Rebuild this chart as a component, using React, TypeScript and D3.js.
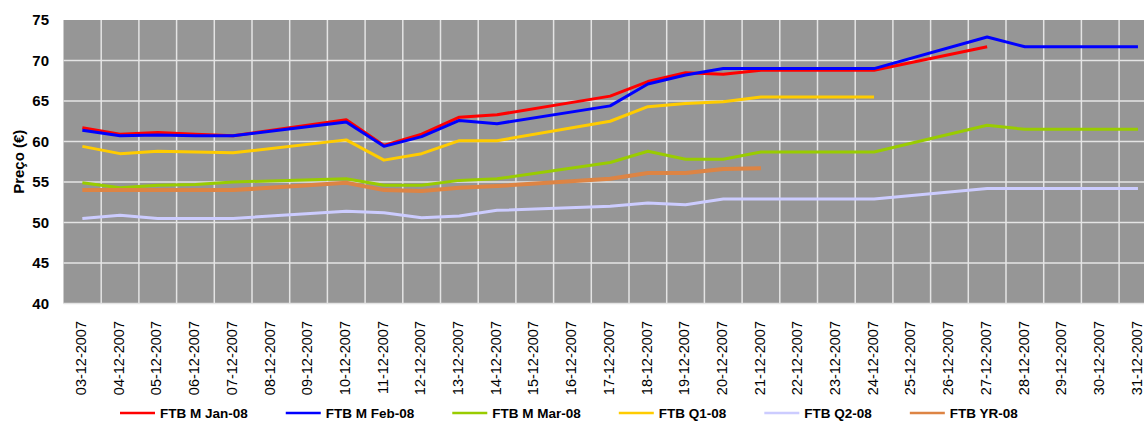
import * as d3 from "d3";
import { useEffect, useRef } from "react";

// trading days only; weekends / holidays are null and the line bridges them
const dates = [
  "03-12-2007", "04-12-2007", "05-12-2007", "06-12-2007", "07-12-2007",
  "08-12-2007", "09-12-2007", "10-12-2007", "11-12-2007", "12-12-2007",
  "13-12-2007", "14-12-2007", "15-12-2007", "16-12-2007", "17-12-2007",
  "18-12-2007", "19-12-2007", "20-12-2007", "21-12-2007", "22-12-2007",
  "23-12-2007", "24-12-2007", "25-12-2007", "26-12-2007", "27-12-2007",
  "28-12-2007", "29-12-2007", "30-12-2007", "31-12-2007",
];

const _ = null;

const janValues = [61.7, 60.9, 61.1, 60.9, 60.7, _, _, 62.7, 59.5, 60.9, 63.0, 63.3, _, _, 65.6, 67.4, 68.5, 68.3, 68.8, _, _, 68.8, _, _, 71.7, _, _, _, _];
const febValues = [61.4, 60.7, 60.8, 60.7, 60.7, _, _, 62.4, 59.4, 60.6, 62.6, 62.2, _, _, 64.4, 67.1, 68.2, 69.0, 69.0, _, _, 69.0, _, _, 72.9, 71.7, _, _, 71.7];
const marValues = [54.9, 54.3, 54.6, 54.7, 55.0, _, _, 55.4, 54.6, 54.6, 55.2, 55.4, _, _, 57.4, 58.8, 57.8, 57.8, 58.7, _, _, 58.7, _, _, 62.0, 61.5, _, _, 61.5];
const q1Values = [59.4, 58.5, 58.8, 58.7, 58.6, _, _, 60.2, 57.7, 58.5, 60.1, 60.1, _, _, 62.5, 64.3, 64.7, 64.9, 65.5, _, _, 65.5, _, _, _, _, _, _, _];
const q2Values = [50.5, 50.9, 50.5, 50.5, 50.5, _, _, 51.4, 51.2, 50.6, 50.8, 51.5, _, _, 52.0, 52.4, 52.2, 52.9, 52.9, _, _, 52.9, _, _, 54.2, 54.2, _, _, 54.2];
const yrValues = [54.0, 54.0, 54.0, 54.0, 54.0, _, _, 54.9, 54.0, 53.9, 54.3, 54.5, _, _, 55.4, 56.1, 56.1, 56.6, 56.7, _, _, _, _, _, _, _, _, _, _];

const seriesNames = ["FTB M Jan-08", "FTB M Feb-08", "FTB M Mar-08", "FTB Q1-08", "FTB Q2-08", "FTB YR-08"];
const seriesValues = [janValues, febValues, marValues, q1Values, q2Values, yrValues];
const seriesColors = ["#ff0000", "#0000ff", "#99cc00", "#ffcc00", "#ccccff", "#dd8444"];
const seriesWidths = [3, 3, 3, 3, 3, 4];

const yTicks = [40, 45, 50, 55, 60, 65, 70, 75];

export default function App() {
  const ref = useRef<SVGSVGElement>(null);

  useEffect(() => {
    if (!ref.current) return;
    const svg = d3.select(ref.current);
    svg.selectAll("*").remove();

    const width = 1144,
      margin = { top: 20, left: 63.5, bottom: 303.5 };
    const font = "'Liberation Sans', Arial, sans-serif";

    const x = d3
      .scaleBand()
      .domain(dates)
      .range([margin.left, margin.left + dates.length * 37.7])
      .padding(0);

    const y = d3.scaleLinear().domain([40, 75]).range([margin.bottom, margin.top]);

    const plotRight = width + 20;

    // plot background
    svg.append("rect")
      .attr("x", margin.left)
      .attr("y", margin.top)
      .attr("width", plotRight - margin.left)
      .attr("height", margin.bottom - margin.top)
      .attr("fill", "#969696");

    // grid
    const grid = svg.append("g").attr("stroke", "#e4e4e4").attr("stroke-width", 1.5);
    grid.selectAll("line.h")
      .data(yTicks.filter((t) => t !== 75))
      .enter()
      .append("line")
      .attr("class", "h")
      .attr("x1", margin.left)
      .attr("x2", plotRight)
      .attr("y1", (d) => y(d))
      .attr("y2", (d) => y(d));
    grid.selectAll("line.v")
      .data(dates.slice(1))
      .enter()
      .append("line")
      .attr("class", "v")
      .attr("x1", (d) => x(d)!)
      .attr("x2", (d) => x(d)!)
      .attr("y1", margin.top)
      .attr("y2", margin.bottom);

    // series
    const line = d3
      .line<{ date: string; v: number }>()
      .x((d) => x(d.date)! + x.bandwidth() / 2)
      .y((d) => y(d.v));

    seriesValues.forEach((vals, i) => {
      const pts = vals
        .map((v, j) => ({ date: dates[j], v: v as number }))
        .filter((p) => p.v != null);
      svg.append("path")
        .datum(pts)
        .attr("fill", "none")
        .attr("stroke", seriesColors[i])
        .attr("stroke-width", seriesWidths[i])
        .attr("stroke-linejoin", "round")
        .attr("d", line);
    });

    // y axis labels
    svg.append("g")
      .selectAll("text")
      .data(yTicks)
      .enter()
      .append("text")
      .attr("x", 49)
      .attr("y", (d) => y(d))
      .attr("dy", "0.36em")
      .attr("text-anchor", "end")
      .attr("font-family", font)
      .attr("font-weight", "bold")
      .attr("font-size", "15px")
      .attr("fill", "#000")
      .text((d) => d);

    svg.append("text")
      .attr("transform", `translate(24, ${(margin.top + margin.bottom) / 2}) rotate(-90)`)
      .attr("text-anchor", "middle")
      .attr("font-family", font)
      .attr("font-weight", "bold")
      .attr("font-size", "15px")
      .attr("fill", "#000")
      .text("Preço (€)");

    // x axis labels
    svg.append("g")
      .selectAll("text")
      .data(dates)
      .enter()
      .append("text")
      .attr("transform", (d) => `translate(${x(d)! + x.bandwidth() / 2 - 1.5}, 321) rotate(-90)`)
      .attr("dy", "0.36em")
      .attr("text-anchor", "end")
      .attr("font-family", font)
      .attr("font-size", "14.5px")
      .attr("fill", "#000")
      .text((d) => d);

    // legend
    const legend = svg.append("g").attr("transform", "translate(120, 413)");
    let lx = 0;
    seriesNames.forEach((name, i) => {
      const item = legend.append("g").attr("transform", `translate(${lx}, 0)`);
      item.append("line")
        .attr("x1", 0)
        .attr("x2", 35)
        .attr("stroke", seriesColors[i])
        .attr("stroke-width", 2.5);
      const t = item.append("text")
        .attr("x", 40)
        .attr("dy", "0.36em")
        .attr("font-family", font)
        .attr("font-weight", "bold")
        .attr("font-size", "13.5px")
        .attr("fill", "#000")
        .text(name);
      const w = (t.node() as SVGTextElement).getComputedTextLength();
      lx += 40 + w + 38;
    });
  }, []);

  return (
    <svg
      ref={ref}
      width={1144}
      height={421}
      style={{ position: "absolute", left: 0, top: 0, background: "#fff" }}
    />
  );
}
